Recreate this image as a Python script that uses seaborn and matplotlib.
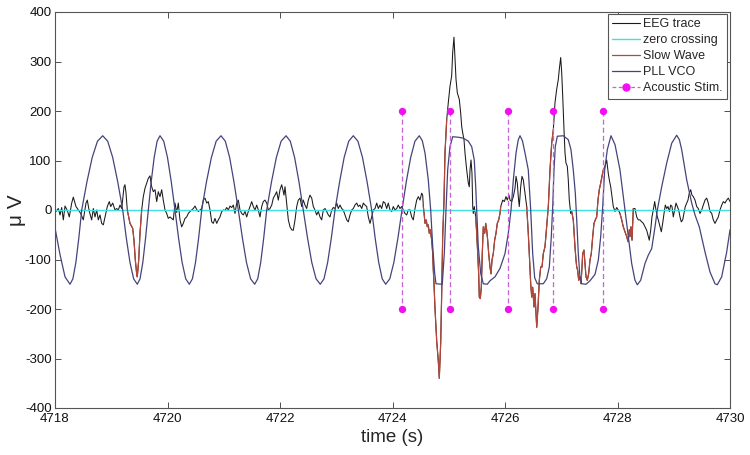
import numpy as np
import pandas as pd
import matplotlib
matplotlib.use("Agg")
import matplotlib.pyplot as plt
from matplotlib.lines import Line2D
import seaborn as sns

# ---------------- data ----------------
eeg_time = [
    4718.000, 4718.018, 4718.059, 4718.089, 4718.119, 4718.148, 4718.178, 4718.219, 4718.254, 4718.297,
    4718.325, 4718.373, 4718.414, 4718.457, 4718.503, 4718.551, 4718.574, 4718.610, 4718.652, 4718.681,
    4718.711, 4718.741, 4718.770, 4718.800, 4718.830, 4718.859, 4718.889, 4718.930, 4718.965, 4718.990,
    4719.026, 4719.067, 4719.097, 4719.125, 4719.156, 4719.186, 4719.227, 4719.244, 4719.262, 4719.285,
    4719.333, 4719.381, 4719.404, 4719.428, 4719.452, 4719.463, 4719.488, 4719.511, 4719.541, 4719.570,
    4719.600, 4719.630, 4719.659, 4719.689, 4719.719, 4719.748, 4719.778, 4719.808, 4719.836, 4719.867,
    4719.897, 4719.925, 4719.956, 4719.986, 4720.014, 4720.044, 4720.075, 4720.103, 4720.133, 4720.164,
    4720.192, 4720.222, 4720.252, 4720.281, 4720.311, 4720.341, 4720.370, 4720.400, 4720.430, 4720.459,
    4720.489, 4720.519, 4720.548, 4720.578, 4720.608, 4720.636, 4720.667, 4720.697, 4720.725, 4720.756,
    4720.786, 4720.814, 4720.844, 4720.875, 4720.903, 4720.933, 4720.964, 4720.992, 4721.022, 4721.052,
    4721.081, 4721.111, 4721.141, 4721.170, 4721.200, 4721.230, 4721.259, 4721.289, 4721.319, 4721.348,
    4721.378, 4721.408, 4721.436, 4721.467, 4721.497, 4721.525, 4721.556, 4721.586, 4721.614, 4721.644,
    4721.675, 4721.703, 4721.733, 4721.764, 4721.792, 4721.822, 4721.853, 4721.881, 4721.911, 4721.941,
    4721.970, 4722.000, 4722.030, 4722.059, 4722.071, 4722.089, 4722.119, 4722.148, 4722.178, 4722.208,
    4722.236, 4722.267, 4722.297, 4722.325, 4722.356, 4722.386, 4722.414, 4722.444, 4722.475, 4722.503,
    4722.533, 4722.564, 4722.592, 4722.622, 4722.652, 4722.681, 4722.711, 4722.741, 4722.770, 4722.800,
    4722.830, 4722.859, 4722.889, 4722.919, 4722.948, 4722.978, 4723.008, 4723.036, 4723.067, 4723.097,
    4723.125, 4723.156, 4723.186, 4723.214, 4723.244, 4723.275, 4723.303, 4723.333, 4723.364, 4723.392,
    4723.422, 4723.453, 4723.481, 4723.511, 4723.541, 4723.570, 4723.600, 4723.630, 4723.659, 4723.689,
    4723.719, 4723.748, 4723.778, 4723.808, 4723.836, 4723.867, 4723.897, 4723.925, 4723.956, 4723.986,
    4724.014, 4724.044, 4724.075, 4724.103, 4724.133, 4724.164, 4724.192, 4724.222, 4724.252, 4724.281,
    4724.311, 4724.341, 4724.370, 4724.400, 4724.430, 4724.459, 4724.489, 4724.519, 4724.537, 4724.548,
    4724.560, 4724.578, 4724.599, 4724.619, 4724.636, 4724.654, 4724.672, 4724.697, 4724.715, 4724.725,
    4724.738, 4724.756, 4724.786, 4724.814, 4724.832, 4724.857, 4724.875, 4724.892, 4724.916, 4724.933,
    4724.964, 4724.992, 4725.022, 4725.052, 4725.070, 4725.093, 4725.111, 4725.129, 4725.152, 4725.170,
    4725.188, 4725.212, 4725.230, 4725.248, 4725.271, 4725.289, 4725.319, 4725.348, 4725.365, 4725.378,
    4725.396, 4725.413, 4725.426, 4725.436, 4725.454, 4725.479, 4725.497, 4725.515, 4725.532, 4725.543,
    4725.561, 4725.579, 4725.596, 4725.614, 4725.639, 4725.657, 4725.675, 4725.692, 4725.710, 4725.733,
    4725.751, 4725.769, 4725.792, 4725.816, 4725.840, 4725.863, 4725.888, 4725.911, 4725.924, 4725.959,
    4725.988, 4726.018, 4726.041, 4726.071, 4726.089, 4726.119, 4726.148, 4726.178, 4726.196, 4726.219,
    4726.236, 4726.254, 4726.279, 4726.302, 4726.325, 4726.356, 4726.386, 4726.414, 4726.432, 4726.457,
    4726.475, 4726.492, 4726.516, 4726.533, 4726.564, 4726.587, 4726.610, 4726.635, 4726.658, 4726.681,
    4726.711, 4726.741, 4726.770, 4726.800, 4726.830, 4726.859, 4726.889, 4726.919, 4726.948, 4726.965,
    4726.990, 4727.008, 4727.026, 4727.049, 4727.067, 4727.084, 4727.108, 4727.125, 4727.143, 4727.168,
    4727.186, 4727.204, 4727.214, 4727.244, 4727.262, 4727.275, 4727.292, 4727.310, 4727.333, 4727.351,
    4727.369, 4727.381, 4727.404, 4727.422, 4727.440, 4727.463, 4727.488, 4727.511, 4727.534, 4727.559,
    4727.582, 4727.605, 4727.630, 4727.653, 4727.676, 4727.701, 4727.724, 4727.748, 4727.778, 4727.808,
    4727.836, 4727.854, 4727.879, 4727.902, 4727.925, 4727.956, 4727.986, 4728.014, 4728.044, 4728.075,
    4728.103, 4728.133, 4728.164, 4728.187, 4728.210, 4728.222, 4728.240, 4728.258, 4728.281, 4728.311,
    4728.341, 4728.370, 4728.400, 4728.430, 4728.459, 4728.489, 4728.519, 4728.548, 4728.565, 4728.590,
    4728.613, 4728.636, 4728.661, 4728.684, 4728.708, 4728.725, 4728.756, 4728.779, 4728.803, 4728.827,
    4728.850, 4728.875, 4728.898, 4728.921, 4728.946, 4728.969, 4728.992, 4729.017, 4729.040, 4729.063,
    4729.088, 4729.111, 4729.134, 4729.159, 4729.182, 4729.205, 4729.230, 4729.253, 4729.276, 4729.301,
    4729.324, 4729.348, 4729.378, 4729.408, 4729.436, 4729.467, 4729.497, 4729.525, 4729.556, 4729.586,
    4729.614, 4729.644, 4729.675, 4729.703, 4729.733, 4729.764, 4729.792, 4729.822, 4729.853, 4729.881,
    4729.911, 4729.941, 4729.970, 4730.000,
]
eeg_uv = [
    0, -3, 3, -10, 5, -20, 8, -1, -14, 14,
    26, 7, 0, -7, -20, 14, 20, -3, -20, 3,
    -14, 0, -20, -10, -27, -30, -14, 7, 17, 7,
    14, 0, 3, 0, 10, 3, 47, 51, 35, 0,
    -27, -37, -61, -101, -129, -135, -101, -47, 0, 27,
    44, 54, 64, 69, 47, 37, 41, 17, 37, 27,
    41, 20, 0, -7, -17, -14, -17, -20, 14, -5,
    14, -20, -34, -27, -17, -14, -7, -3, 0, 3,
    8, 1, -3, 0, 3, 20, 24, 14, 17, 0,
    -24, -27, -17, -27, -20, -14, -3, 0, -1, 5,
    0, 8, 5, 10, -7, 14, 20, 0, -7, -10,
    -3, -14, -3, 7, 17, 7, 0, 10, 0, -14,
    7, 17, 20, 14, 0, 3, 10, 24, 30, 37,
    20, 41, 51, 37, 30, 47, 14, -20, -34, -40,
    -41, -20, 7, 20, 24, 7, 20, 10, 3, 20,
    30, 24, 7, 0, -10, -3, -14, -20, 0, 3,
    -3, -10, -14, 0, 5, 3, 14, 3, 10, 3,
    0, -10, -20, -24, -10, 0, 3, 10, 14, 7,
    10, 3, 14, 10, 7, -14, -27, -14, 0, 3,
    14, 3, 10, 3, 17, 14, 3, 14, 0, -3,
    7, 0, 3, 10, 3, 7, 0, -7, -10, 0,
    0, -14, -20, 3, 20, 27, 20, 34, 30, 7,
    -5, -27, -20, -34, -30, -47, -40, -61, -88, -120,
    -150, -200, -265, -305, -340, -268, -166, -54, 20, 115,
    183, 217, 250, 271, 318, 349, 305, 264, 237, 230,
    223, 196, 169, 156, 142, 115, 81, 54, 47, 81,
    101, 74, 7, -7, 7, -14, -47, -88, -129, -176,
    -179, -156, -88, -34, -47, -27, -41, -61, -88, -115,
    -129, -101, -88, -61, -47, -27, -20, -7, 7, 20,
    17, 27, 20, 30, 20, 17, 27, 44, 68, 54,
    27, 7, 47, 68, 61, 34, 7, -47, -88, -149,
    -176, -156, -196, -169, -237, -196, -142, -115, -115, -88,
    -74, -34, 7, 81, 135, 162, 217, 244, 264, 284,
    308, 278, 230, 162, 115, 95, 88, 61, 20, -7,
    -3, -14, -20, -74, -101, -115, -122, -142, -135, -149,
    -115, -88, -81, -108, -135, -142, -128, -101, -88, -54,
    -27, -20, -14, 20, 41, 54, 68, 81, 88, 101,
    74, 61, 47, 27, 7, -3, 5, 0, -7, -20,
    -34, -44, -54, -64, -40, -54, -34, -61, 3, 3,
    -14, -20, -20, -24, -27, -34, -41, -54, -61, -41,
    -14, 0, 17, 0, -14, -20, -34, -44, -27, -7,
    10, 3, 7, -3, 10, 7, -14, 0, 14, 7,
    0, -14, -24, -20, -7, 7, 14, 20, 34, 41,
    30, 27, 20, 7, 3, -7, 0, 10, 20, 24,
    14, -3, -7, -20, -27, -20, -14, 0, 10, 17,
    14, 20, 24, 17,
]

vco_time = [
    4718.000, 4718.089, 4718.178, 4718.267, 4718.318, 4718.371, 4718.423, 4718.475, 4718.568, 4718.661,
    4718.755, 4718.848, 4718.937, 4719.026, 4719.115, 4719.204, 4719.268, 4719.333, 4719.398, 4719.463,
    4719.512, 4719.561, 4719.610, 4719.659, 4719.710, 4719.763, 4719.815, 4719.867, 4719.933, 4720.000,
    4720.067, 4720.133, 4720.197, 4720.260, 4720.324, 4720.388, 4720.443, 4720.498, 4720.553, 4720.608,
    4720.693, 4720.780, 4720.865, 4720.951, 4721.028, 4721.105, 4721.181, 4721.259, 4721.332, 4721.404,
    4721.477, 4721.550, 4721.604, 4721.657, 4721.710, 4721.764, 4721.849, 4721.935, 4722.020, 4722.107,
    4722.183, 4722.260, 4722.337, 4722.414, 4722.490, 4722.565, 4722.641, 4722.716, 4722.782, 4722.847,
    4722.912, 4722.978, 4723.060, 4723.140, 4723.222, 4723.303, 4723.385, 4723.467, 4723.548, 4723.630,
    4723.692, 4723.755, 4723.817, 4723.879, 4723.952, 4724.024, 4724.096, 4724.169, 4724.245, 4724.323,
    4724.399, 4724.476, 4724.530, 4724.578, 4724.636, 4724.679, 4724.715, 4724.750, 4724.773, 4724.885,
    4724.921, 4724.951, 4724.981, 4725.022, 4725.070, 4725.170, 4725.259, 4725.348, 4725.408, 4725.454,
    4725.479, 4725.497, 4725.525, 4725.568, 4725.614, 4725.685, 4725.733, 4725.822, 4725.911, 4726.000,
    4726.059, 4726.107, 4726.148, 4726.196, 4726.236, 4726.267, 4726.310, 4726.356, 4726.414, 4726.457,
    4726.492, 4726.528, 4726.574, 4726.681, 4726.741, 4726.788, 4726.823, 4726.848, 4726.871, 4726.894,
    4726.930, 4727.036, 4727.125, 4727.173, 4727.214, 4727.250, 4727.275, 4727.303, 4727.333, 4727.364,
    4727.440, 4727.511, 4727.600, 4727.659, 4727.701, 4727.737, 4727.772, 4727.819, 4727.884, 4727.956,
    4728.044, 4728.133, 4728.192, 4728.252, 4728.311, 4728.352, 4728.412, 4728.489, 4728.548, 4728.608,
    4728.667, 4728.708, 4728.786, 4728.875, 4728.964, 4729.052, 4729.100, 4729.141, 4729.230, 4729.319,
    4729.378, 4729.454, 4729.556, 4729.644, 4729.733, 4729.774, 4729.852, 4729.941, 4730.000,
]
vco_uv = [
    -36, -90, -135, -150, -139, -106, -57, 0, 57, 106,
    139, 150, 139, 106, 57, 0, -57, -106, -139, -150,
    -139, -106, -57, 0, 57, 106, 139, 150, 139, 106,
    57, 0, -57, -106, -139, -150, -139, -106, -57, 0,
    57, 106, 139, 150, 139, 106, 57, 0, -57, -106,
    -139, -150, -139, -106, -57, 0, 57, 106, 139, 150,
    139, 106, 57, 0, -57, -106, -139, -150, -139, -106,
    -57, 0, 57, 106, 139, 150, 139, 106, 57, 0,
    -57, -106, -139, -150, -139, -106, -57, 0, 57, 106,
    139, 150, 140, 115, 61, 0, -74, -128, -149, -150,
    -88, 0, 81, 128, 148, 147, 145, 139, 128, 101,
    47, 0, -74, -128, -149, -150, -143, -135, -118, -88,
    -47, 0, 61, 115, 142, 150, 140, 115, 81, 0,
    -88, -137, -149, -149, -139, -115, -54, 7, 81, 128,
    149, 150, 142, 122, 81, 34, -20, -88, -137, -149,
    -150, -143, -130, -101, -54, 7, 81, 122, 150, 132,
    81, 0, -54, -108, -142, -151, -142, -108, -91, -78,
    -34, 0, 47, 95, 135, 151, 142, 122, 61, 14,
    -10, -34, -85, -125, -149, -151, -135, -85, -40,
]

zero_time = [4718.0, 4730.0]
zero_uv = [0.0, 0.0]

slow_wave_start = [4719.285, 4724.548, 4725.479, 4726.386, 4727.186, 4728.044]
slow_wave_end = [4719.541, 4724.964, 4725.924, 4726.859, 4727.778, 4728.281]

stim_time = [4724.17, 4725.03, 4726.05, 4726.85, 4727.75]
stim_top = 200
stim_bottom = -200

x_ticks = [4718, 4720, 4722, 4724, 4726, 4728, 4730]
y_ticks = [-400, -300, -200, -100, 0, 100, 200, 300, 400]

legend_labels = ["EEG trace", "zero crossing", "Slow Wave", "PLL VCO", "Acoustic Stim."]

# ---------------- styling ----------------
sns.set_style("white")
plt.rcParams['font.family'] = ['Liberation Sans', 'DejaVu Sans']

c_eeg = "#1a1a1a"
c_zero = "#3fe0e0"
c_sw = "#b5473a"
c_vco = "#44447c"
c_stim_line = "#c462d6"
c_stim_dot = "#f010f0"

fig = plt.figure(figsize=(7.5, 4.55), dpi=100)
ax = fig.add_axes([55 / 750, 47 / 455, 675 / 750, 396 / 455])

eeg = pd.DataFrame({"t": eeg_time, "uv": eeg_uv})
sns.lineplot(data=eeg, x="t", y="uv", ax=ax, color=c_eeg, lw=0.75,
             sort=False, estimator=None)

zero = pd.DataFrame({"t": zero_time, "uv": zero_uv})
sns.lineplot(data=zero, x="t", y="uv", ax=ax, color=c_zero, lw=1.0,
             sort=False, estimator=None)

parts = []
for i, (s, e) in enumerate(zip(slow_wave_start, slow_wave_end)):
    seg = eeg[(eeg.t >= s - 1e-9) & (eeg.t <= e + 1e-9)].copy()
    seg["wave"] = i
    parts.append(seg)
sw = pd.concat(parts, ignore_index=True)
sns.lineplot(data=sw, x="t", y="uv", units="wave", estimator=None, sort=False,
             ax=ax, color=c_sw, lw=0.9)

vco = pd.DataFrame({"t": vco_time, "uv": vco_uv})
sns.lineplot(data=vco, x="t", y="uv", ax=ax, color=c_vco, lw=0.9,
             sort=False, estimator=None)

stim_rows = []
for i, t in enumerate(stim_time):
    stim_rows.append({"stim": i, "t": t, "uv": stim_top})
    stim_rows.append({"stim": i, "t": t, "uv": stim_bottom})
stim = pd.DataFrame(stim_rows)
sns.lineplot(data=stim, x="t", y="uv", units="stim", estimator=None, sort=False,
             ax=ax, color=c_stim_line, lw=0.9, linestyle=(0, (4, 2.5)))
sns.scatterplot(data=stim, x="t", y="uv", ax=ax, color=c_stim_dot, s=28,
                edgecolor=c_stim_dot, linewidth=0, zorder=5)

ax.set_xlim(x_ticks[0], x_ticks[-1])
ax.set_ylim(y_ticks[0], y_ticks[-1])
ax.set_xticks(x_ticks)
ax.set_yticks(y_ticks)
ax.set_xticklabels([str(v) for v in x_ticks])
ax.set_yticklabels([str(v) for v in y_ticks])
ax.tick_params(direction="in", length=4, width=0.6, top=True, right=True,
               bottom=True, left=True, labelsize=9.5, colors="#333333",
               labelcolor="#111111")
ax.tick_params(axis="x", pad=3.5)
ax.tick_params(axis="y", pad=2.5)
for sp in ax.spines.values():
    sp.set_color("#555555")
    sp.set_linewidth(0.8)

ax.set_xlabel("time (s)", fontsize=13.5, labelpad=3)
ax.set_ylabel("\u03bc V", fontsize=15)
ax.yaxis.set_label_coords(-0.043, 0.5)

handles = [
    Line2D([], [], color=c_eeg, lw=0.8),
    Line2D([], [], color=c_zero, lw=1.0),
    Line2D([], [], color=c_sw, lw=0.9),
    Line2D([], [], color=c_vco, lw=0.9),
    Line2D([], [], color=c_stim_line, lw=0.9, linestyle=(0, (3, 2)),
           marker="o", markersize=5, markerfacecolor=c_stim_dot,
           markeredgecolor=c_stim_dot),
]
leg = ax.legend(handles, legend_labels, loc="upper right",
                bbox_to_anchor=(0.996, 0.995), borderaxespad=0.0,
                fontsize=9, frameon=True, fancybox=False, framealpha=1,
                edgecolor="#555555", handlelength=2.2, handletextpad=0.3,
                labelspacing=0.32, borderpad=0.35, numpoints=1)
leg.get_frame().set_linewidth(0.8)

fig.savefig("out.png", dpi=100)
